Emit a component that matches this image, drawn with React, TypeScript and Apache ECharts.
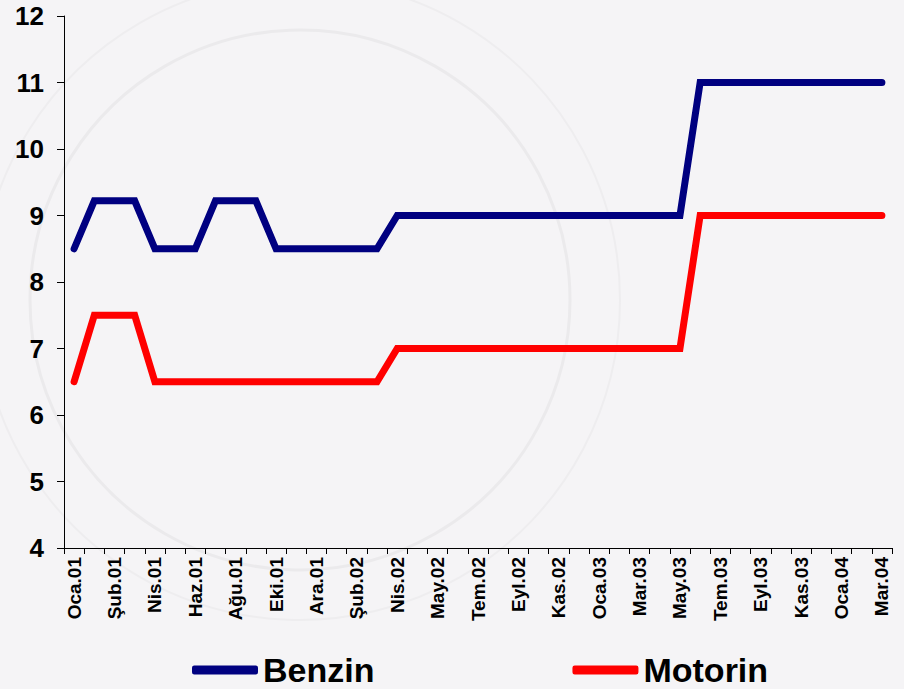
import React, { useEffect, useRef } from "react";
import * as echarts from "echarts";

const categories: string[] = [
  "Oca.01", "Oca.01", "Şub.01", "Mar.01", "Nis.01", "May.01", "Haz.01", "Tem.01",
  "Ağu.01", "Eyl.01", "Eki.01", "Kas.01", "Ara.01", "Oca.02", "Şub.02", "Mar.02",
  "Nis.02", "Nis.02", "May.02", "Haz.02", "Tem.02", "Ağu.02", "Eyl.02", "Eki.02",
  "Kas.02", "Ara.02", "Oca.03", "Şub.03", "Mar.03", "Nis.03", "May.03", "Haz.03",
  "Tem.03", "Ağu.03", "Eyl.03", "Eki.03", "Kas.03", "Ara.03", "Oca.04", "Şub.04",
  "Mar.04",
];

const benzin: number[] = [
  8.5, 9.22, 9.22, 9.22, 8.5, 8.5, 8.5, 9.22, 9.22, 9.22,
  8.5, 8.5, 8.5, 8.5, 8.5, 8.5, 9, 9, 9, 9,
  9, 9, 9, 9, 9, 9, 9, 9, 9, 9,
  9, 11, 11, 11, 11, 11, 11, 11, 11, 11,
  11,
];

const motorin: number[] = [
  6.5, 7.5, 7.5, 7.5, 6.5, 6.5, 6.5, 6.5, 6.5, 6.5,
  6.5, 6.5, 6.5, 6.5, 6.5, 6.5, 7, 7, 7, 7,
  7, 7, 7, 7, 7, 7, 7, 7, 7, 7,
  7, 9, 9, 9, 9, 9, 9, 9, 9, 9,
  9,
];

const seriesNames = ["Benzin", "Motorin"];
const yMin = 4;
const yMax = 12;

export default function App() {
  const ref = useRef<HTMLDivElement>(null);
  useEffect(() => {
    if (!ref.current) return;
    const chart = echarts.init(ref.current, undefined, { renderer: "svg" });
    const font = "'Liberation Sans', Arial, sans-serif";
    chart.setOption({
      animation: false,
      backgroundColor: "#f5f4f6",
      textStyle: { fontFamily: font },
      graphic: [
        {
          type: "circle",
          shape: { cx: 300, cy: 300, r: 270 },
          style: { fill: "none", stroke: "#ebeaec", lineWidth: 3 },
          silent: true,
          z: -10,
        },
        {
          type: "circle",
          shape: { cx: 300, cy: 300, r: 320 },
          style: { fill: "none", stroke: "#eeedef", lineWidth: 2 },
          silent: true,
          z: -10,
        },
      ],
      grid: { left: 64, right: 12, top: 16, bottom: 141, containLabel: false },
      legend: {
        data: seriesNames,
        bottom: -3,
        left: 187,
        itemGap: 198,
        itemWidth: 66,
        itemHeight: 9,
        icon: "roundRect",
        textStyle: { fontSize: 34, fontWeight: "bold", color: "#000", fontFamily: font },
      },
      xAxis: {
        type: "category",
        data: categories,
        boundaryGap: true,
        axisLine: { lineStyle: { color: "#000", width: 1 } },
        axisTick: { show: true, interval: 0, length: 6, lineStyle: { color: "#000" } },
        axisLabel: {
          interval: 1,
          rotate: 90,
          fontSize: 19,
          fontWeight: "bold",
          color: "#000",
          margin: 9,
          fontFamily: font,
        },
        splitLine: { show: false },
      },
      yAxis: {
        type: "value",
        min: yMin,
        max: yMax,
        interval: 1,
        axisLine: { show: true, lineStyle: { color: "#000", width: 1 } },
        axisTick: { show: true, length: 7, lineStyle: { color: "#000" } },
        axisLabel: {
          fontSize: 26,
          fontWeight: "bold",
          color: "#000",
          margin: 20,
          fontFamily: font,
        },
        splitLine: { show: false },
      },
      series: [
        {
          name: seriesNames[0],
          type: "line",
          data: benzin,
          symbol: "none",
          lineStyle: { color: "#000080", width: 7, cap: "round", join: "miter" },
          itemStyle: { color: "#000080" },
        },
        {
          name: seriesNames[1],
          type: "line",
          data: motorin,
          symbol: "none",
          lineStyle: { color: "#ff0000", width: 7, cap: "round", join: "miter" },
          itemStyle: { color: "#ff0000" },
        },
      ],
    });
    return () => chart.dispose();
  }, []);
  return (
    <div
      ref={ref}
      style={{ position: "fixed", left: 0, top: 0, width: 904, height: 689 }}
    />
  );
}
